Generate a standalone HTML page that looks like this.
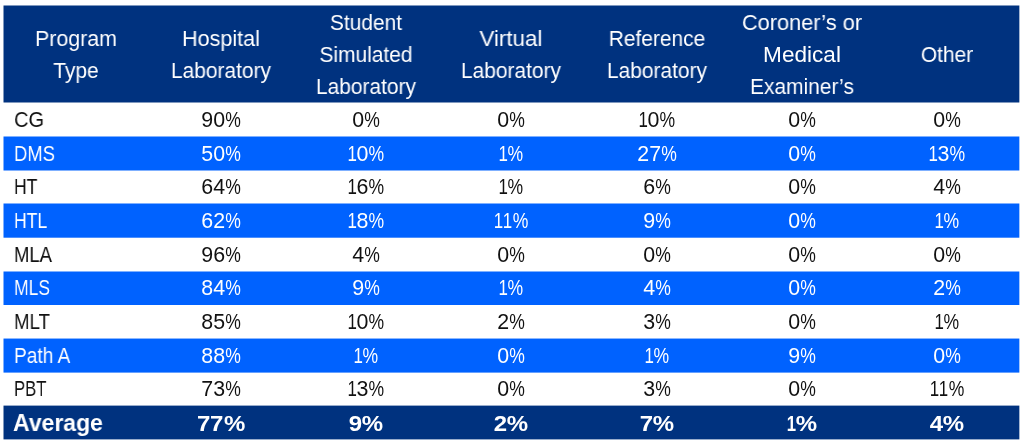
<!DOCTYPE html>
<html><head><meta charset="utf-8">
<style>
html,body{margin:0;padding:0;background:#fff;}
body{width:1024px;height:443px;position:relative;overflow:hidden;font-family:"Liberation Sans",sans-serif;}
svg{position:absolute;left:0;top:0;}
.t{position:absolute;white-space:nowrap;will-change:transform;line-height:40px;color:#111111;}
.h{font-size:22.5px;color:#fff;transform:translateX(-50%) scaleX(0.93);}
.d{font-size:22.5px;}
.c.d{transform:translateX(-50%) scaleX(0.84);}
.l.d{transform-origin:0 0;transform:scaleX(0.81);}
.bd{font-size:22.3px;font-weight:bold;}
.c.bd{transform:translateX(-50%) scaleX(1.075);}
.l.bd{transform-origin:0 0;transform:scaleX(1.0);}
.w{color:#fff;}
i{font-style:normal;display:inline-block;transform-origin:0 0;}

</style></head><body>
<svg width="1024" height="443" viewBox="0 0 1024 443" shape-rendering="geometricPrecision">
<rect x="3.5" y="5.5" width="1015.85" height="97.00" fill="#00327f"/>
<rect x="3.5" y="136.5" width="1015.85" height="34.00" fill="#0062ff"/>
<rect x="3.5" y="203.5" width="1015.85" height="34.20" fill="#0062ff"/>
<rect x="3.5" y="271.5" width="1015.85" height="33.50" fill="#0062ff"/>
<rect x="3.5" y="338.55" width="1015.85" height="34.05" fill="#0062ff"/>
<rect x="3.5" y="405.6" width="1015.85" height="33.80" fill="#00327f"/>
</svg>
<div class="t c h" style="left:76.06px;top:19.20px;transform:translateX(-50%) scaleX(0.949)">Program</div>
<div class="t c h" style="left:76.06px;top:50.80px">Type</div>
<div class="t c h" style="left:221.18px;top:19.20px;transform:translateX(-50%) scaleX(0.958)">Hospital</div>
<div class="t c h" style="left:221.18px;top:50.80px">Laboratory</div>
<div class="t c h" style="left:366.30px;top:2.70px">Student</div>
<div class="t c h" style="left:366.30px;top:35.10px">Simulated</div>
<div class="t c h" style="left:366.30px;top:67.30px">Laboratory</div>
<div class="t c h" style="left:511.42px;top:19.20px;transform:translateX(-50%) scaleX(0.995)">Virtual</div>
<div class="t c h" style="left:511.42px;top:50.80px">Laboratory</div>
<div class="t c h" style="left:656.55px;top:19.20px">Reference</div>
<div class="t c h" style="left:656.55px;top:50.80px">Laboratory</div>
<div class="t c h" style="left:801.67px;top:2.70px;transform:translateX(-50%) scaleX(0.967)">Coroner’s or</div>
<div class="t c h" style="left:801.67px;top:35.10px;transform:translateX(-50%) scaleX(1.004)">Medical</div>
<div class="t c h" style="left:801.67px;top:67.30px">Examiner’s</div>
<div class="t c h" style="left:946.79px;top:35.10px">Other</div>
<div class="t l d" style="left:13.6px;top:99.50px;transform:scaleX(0.89)">CG</div>
<div class="t c d" style="left:221.18px;top:99.50px;transform:translateX(-50%)"><i style="transform:scaleX(0.95);margin-right:-0.63px">9</i><i style="transform:scaleX(0.95);margin-right:-0.63px">0</i><i style="transform:scaleX(0.78);margin-right:-4.40px">%</i></div>
<div class="t c d" style="left:366.30px;top:99.50px;transform:translateX(-50%)"><i style="transform:scaleX(0.95);margin-right:-0.63px">0</i><i style="transform:scaleX(0.78);margin-right:-4.40px">%</i></div>
<div class="t c d" style="left:511.42px;top:99.50px;transform:translateX(-50%)"><i style="transform:scaleX(0.95);margin-right:-0.63px">0</i><i style="transform:scaleX(0.78);margin-right:-4.40px">%</i></div>
<div class="t c d" style="left:656.55px;top:99.50px;transform:translateX(-50%)"><i style="transform:scaleX(0.75);margin-right:-3.13px">1</i><i style="transform:scaleX(0.95);margin-right:-0.63px">0</i><i style="transform:scaleX(0.78);margin-right:-4.40px">%</i></div>
<div class="t c d" style="left:801.67px;top:99.50px;transform:translateX(-50%)"><i style="transform:scaleX(0.95);margin-right:-0.63px">0</i><i style="transform:scaleX(0.78);margin-right:-4.40px">%</i></div>
<div class="t c d" style="left:946.79px;top:99.50px;transform:translateX(-50%)"><i style="transform:scaleX(0.95);margin-right:-0.63px">0</i><i style="transform:scaleX(0.78);margin-right:-4.40px">%</i></div>
<div class="t l d w" style="left:13.6px;top:133.50px;transform:scaleX(0.82)">DMS</div>
<div class="t c d w" style="left:221.18px;top:133.50px;transform:translateX(-50%)"><i style="transform:scaleX(0.95);margin-right:-0.63px">5</i><i style="transform:scaleX(0.95);margin-right:-0.63px">0</i><i style="transform:scaleX(0.78);margin-right:-4.40px">%</i></div>
<div class="t c d w" style="left:366.30px;top:133.50px;transform:translateX(-50%)"><i style="transform:scaleX(0.75);margin-right:-3.13px">1</i><i style="transform:scaleX(0.95);margin-right:-0.63px">0</i><i style="transform:scaleX(0.78);margin-right:-4.40px">%</i></div>
<div class="t c d w" style="left:511.42px;top:133.50px;transform:translateX(-50%)"><i style="transform:scaleX(0.75);margin-right:-3.13px">1</i><i style="transform:scaleX(0.78);margin-right:-4.40px">%</i></div>
<div class="t c d w" style="left:656.55px;top:133.50px;transform:translateX(-50%)"><i style="transform:scaleX(0.95);margin-right:-0.63px">2</i><i style="transform:scaleX(0.95);margin-right:-0.63px">7</i><i style="transform:scaleX(0.78);margin-right:-4.40px">%</i></div>
<div class="t c d w" style="left:801.67px;top:133.50px;transform:translateX(-50%)"><i style="transform:scaleX(0.95);margin-right:-0.63px">0</i><i style="transform:scaleX(0.78);margin-right:-4.40px">%</i></div>
<div class="t c d w" style="left:946.79px;top:133.50px;transform:translateX(-50%)"><i style="transform:scaleX(0.75);margin-right:-3.13px">1</i><i style="transform:scaleX(0.95);margin-right:-0.63px">3</i><i style="transform:scaleX(0.78);margin-right:-4.40px">%</i></div>
<div class="t l d" style="left:13.6px;top:167.00px;transform:scaleX(0.78)">HT</div>
<div class="t c d" style="left:221.18px;top:167.00px;transform:translateX(-50%)"><i style="transform:scaleX(0.95);margin-right:-0.63px">6</i><i style="transform:scaleX(0.95);margin-right:-0.63px">4</i><i style="transform:scaleX(0.78);margin-right:-4.40px">%</i></div>
<div class="t c d" style="left:366.30px;top:167.00px;transform:translateX(-50%)"><i style="transform:scaleX(0.75);margin-right:-3.13px">1</i><i style="transform:scaleX(0.95);margin-right:-0.63px">6</i><i style="transform:scaleX(0.78);margin-right:-4.40px">%</i></div>
<div class="t c d" style="left:511.42px;top:167.00px;transform:translateX(-50%)"><i style="transform:scaleX(0.75);margin-right:-3.13px">1</i><i style="transform:scaleX(0.78);margin-right:-4.40px">%</i></div>
<div class="t c d" style="left:656.55px;top:167.00px;transform:translateX(-50%)"><i style="transform:scaleX(0.95);margin-right:-0.63px">6</i><i style="transform:scaleX(0.78);margin-right:-4.40px">%</i></div>
<div class="t c d" style="left:801.67px;top:167.00px;transform:translateX(-50%)"><i style="transform:scaleX(0.95);margin-right:-0.63px">0</i><i style="transform:scaleX(0.78);margin-right:-4.40px">%</i></div>
<div class="t c d" style="left:946.79px;top:167.00px;transform:translateX(-50%)"><i style="transform:scaleX(0.95);margin-right:-0.63px">4</i><i style="transform:scaleX(0.78);margin-right:-4.40px">%</i></div>
<div class="t l d w" style="left:13.6px;top:200.60px;transform:scaleX(0.78)">HTL</div>
<div class="t c d w" style="left:221.18px;top:200.60px;transform:translateX(-50%)"><i style="transform:scaleX(0.95);margin-right:-0.63px">6</i><i style="transform:scaleX(0.95);margin-right:-0.63px">2</i><i style="transform:scaleX(0.78);margin-right:-4.40px">%</i></div>
<div class="t c d w" style="left:366.30px;top:200.60px;transform:translateX(-50%)"><i style="transform:scaleX(0.75);margin-right:-3.13px">1</i><i style="transform:scaleX(0.95);margin-right:-0.63px">8</i><i style="transform:scaleX(0.78);margin-right:-4.40px">%</i></div>
<div class="t c d w" style="left:511.42px;top:200.60px;transform:translateX(-50%)"><i style="transform:scaleX(0.75);margin-right:-3.13px">1</i><i style="transform:scaleX(0.75);margin-right:-3.13px">1</i><i style="transform:scaleX(0.78);margin-right:-4.40px">%</i></div>
<div class="t c d w" style="left:656.55px;top:200.60px;transform:translateX(-50%)"><i style="transform:scaleX(0.95);margin-right:-0.63px">9</i><i style="transform:scaleX(0.78);margin-right:-4.40px">%</i></div>
<div class="t c d w" style="left:801.67px;top:200.60px;transform:translateX(-50%)"><i style="transform:scaleX(0.95);margin-right:-0.63px">0</i><i style="transform:scaleX(0.78);margin-right:-4.40px">%</i></div>
<div class="t c d w" style="left:946.79px;top:200.60px;transform:translateX(-50%)"><i style="transform:scaleX(0.75);margin-right:-3.13px">1</i><i style="transform:scaleX(0.78);margin-right:-4.40px">%</i></div>
<div class="t l d" style="left:13.6px;top:234.60px;transform:scaleX(0.82)">MLA</div>
<div class="t c d" style="left:221.18px;top:234.60px;transform:translateX(-50%)"><i style="transform:scaleX(0.95);margin-right:-0.63px">9</i><i style="transform:scaleX(0.95);margin-right:-0.63px">6</i><i style="transform:scaleX(0.78);margin-right:-4.40px">%</i></div>
<div class="t c d" style="left:366.30px;top:234.60px;transform:translateX(-50%)"><i style="transform:scaleX(0.95);margin-right:-0.63px">4</i><i style="transform:scaleX(0.78);margin-right:-4.40px">%</i></div>
<div class="t c d" style="left:511.42px;top:234.60px;transform:translateX(-50%)"><i style="transform:scaleX(0.95);margin-right:-0.63px">0</i><i style="transform:scaleX(0.78);margin-right:-4.40px">%</i></div>
<div class="t c d" style="left:656.55px;top:234.60px;transform:translateX(-50%)"><i style="transform:scaleX(0.95);margin-right:-0.63px">0</i><i style="transform:scaleX(0.78);margin-right:-4.40px">%</i></div>
<div class="t c d" style="left:801.67px;top:234.60px;transform:translateX(-50%)"><i style="transform:scaleX(0.95);margin-right:-0.63px">0</i><i style="transform:scaleX(0.78);margin-right:-4.40px">%</i></div>
<div class="t c d" style="left:946.79px;top:234.60px;transform:translateX(-50%)"><i style="transform:scaleX(0.95);margin-right:-0.63px">0</i><i style="transform:scaleX(0.78);margin-right:-4.40px">%</i></div>
<div class="t l d w" style="left:13.6px;top:268.25px;transform:scaleX(0.78)">MLS</div>
<div class="t c d w" style="left:221.18px;top:268.25px;transform:translateX(-50%)"><i style="transform:scaleX(0.95);margin-right:-0.63px">8</i><i style="transform:scaleX(0.95);margin-right:-0.63px">4</i><i style="transform:scaleX(0.78);margin-right:-4.40px">%</i></div>
<div class="t c d w" style="left:366.30px;top:268.25px;transform:translateX(-50%)"><i style="transform:scaleX(0.95);margin-right:-0.63px">9</i><i style="transform:scaleX(0.78);margin-right:-4.40px">%</i></div>
<div class="t c d w" style="left:511.42px;top:268.25px;transform:translateX(-50%)"><i style="transform:scaleX(0.75);margin-right:-3.13px">1</i><i style="transform:scaleX(0.78);margin-right:-4.40px">%</i></div>
<div class="t c d w" style="left:656.55px;top:268.25px;transform:translateX(-50%)"><i style="transform:scaleX(0.95);margin-right:-0.63px">4</i><i style="transform:scaleX(0.78);margin-right:-4.40px">%</i></div>
<div class="t c d w" style="left:801.67px;top:268.25px;transform:translateX(-50%)"><i style="transform:scaleX(0.95);margin-right:-0.63px">0</i><i style="transform:scaleX(0.78);margin-right:-4.40px">%</i></div>
<div class="t c d w" style="left:946.79px;top:268.25px;transform:translateX(-50%)"><i style="transform:scaleX(0.95);margin-right:-0.63px">2</i><i style="transform:scaleX(0.78);margin-right:-4.40px">%</i></div>
<div class="t l d" style="left:13.6px;top:301.78px;transform:scaleX(0.83)">MLT</div>
<div class="t c d" style="left:221.18px;top:301.78px;transform:translateX(-50%)"><i style="transform:scaleX(0.95);margin-right:-0.63px">8</i><i style="transform:scaleX(0.95);margin-right:-0.63px">5</i><i style="transform:scaleX(0.78);margin-right:-4.40px">%</i></div>
<div class="t c d" style="left:366.30px;top:301.78px;transform:translateX(-50%)"><i style="transform:scaleX(0.75);margin-right:-3.13px">1</i><i style="transform:scaleX(0.95);margin-right:-0.63px">0</i><i style="transform:scaleX(0.78);margin-right:-4.40px">%</i></div>
<div class="t c d" style="left:511.42px;top:301.78px;transform:translateX(-50%)"><i style="transform:scaleX(0.95);margin-right:-0.63px">2</i><i style="transform:scaleX(0.78);margin-right:-4.40px">%</i></div>
<div class="t c d" style="left:656.55px;top:301.78px;transform:translateX(-50%)"><i style="transform:scaleX(0.95);margin-right:-0.63px">3</i><i style="transform:scaleX(0.78);margin-right:-4.40px">%</i></div>
<div class="t c d" style="left:801.67px;top:301.78px;transform:translateX(-50%)"><i style="transform:scaleX(0.95);margin-right:-0.63px">0</i><i style="transform:scaleX(0.78);margin-right:-4.40px">%</i></div>
<div class="t c d" style="left:946.79px;top:301.78px;transform:translateX(-50%)"><i style="transform:scaleX(0.75);margin-right:-3.13px">1</i><i style="transform:scaleX(0.78);margin-right:-4.40px">%</i></div>
<div class="t l d w" style="left:13.6px;top:335.58px;transform:scaleX(0.85)">Path A</div>
<div class="t c d w" style="left:221.18px;top:335.58px;transform:translateX(-50%)"><i style="transform:scaleX(0.95);margin-right:-0.63px">8</i><i style="transform:scaleX(0.95);margin-right:-0.63px">8</i><i style="transform:scaleX(0.78);margin-right:-4.40px">%</i></div>
<div class="t c d w" style="left:366.30px;top:335.58px;transform:translateX(-50%)"><i style="transform:scaleX(0.75);margin-right:-3.13px">1</i><i style="transform:scaleX(0.78);margin-right:-4.40px">%</i></div>
<div class="t c d w" style="left:511.42px;top:335.58px;transform:translateX(-50%)"><i style="transform:scaleX(0.95);margin-right:-0.63px">0</i><i style="transform:scaleX(0.78);margin-right:-4.40px">%</i></div>
<div class="t c d w" style="left:656.55px;top:335.58px;transform:translateX(-50%)"><i style="transform:scaleX(0.75);margin-right:-3.13px">1</i><i style="transform:scaleX(0.78);margin-right:-4.40px">%</i></div>
<div class="t c d w" style="left:801.67px;top:335.58px;transform:translateX(-50%)"><i style="transform:scaleX(0.95);margin-right:-0.63px">9</i><i style="transform:scaleX(0.78);margin-right:-4.40px">%</i></div>
<div class="t c d w" style="left:946.79px;top:335.58px;transform:translateX(-50%)"><i style="transform:scaleX(0.95);margin-right:-0.63px">0</i><i style="transform:scaleX(0.78);margin-right:-4.40px">%</i></div>
<div class="t l d" style="left:13.6px;top:369.10px;transform:scaleX(0.74)">PBT</div>
<div class="t c d" style="left:221.18px;top:369.10px;transform:translateX(-50%)"><i style="transform:scaleX(0.95);margin-right:-0.63px">7</i><i style="transform:scaleX(0.95);margin-right:-0.63px">3</i><i style="transform:scaleX(0.78);margin-right:-4.40px">%</i></div>
<div class="t c d" style="left:366.30px;top:369.10px;transform:translateX(-50%)"><i style="transform:scaleX(0.75);margin-right:-3.13px">1</i><i style="transform:scaleX(0.95);margin-right:-0.63px">3</i><i style="transform:scaleX(0.78);margin-right:-4.40px">%</i></div>
<div class="t c d" style="left:511.42px;top:369.10px;transform:translateX(-50%)"><i style="transform:scaleX(0.95);margin-right:-0.63px">0</i><i style="transform:scaleX(0.78);margin-right:-4.40px">%</i></div>
<div class="t c d" style="left:656.55px;top:369.10px;transform:translateX(-50%)"><i style="transform:scaleX(0.95);margin-right:-0.63px">3</i><i style="transform:scaleX(0.78);margin-right:-4.40px">%</i></div>
<div class="t c d" style="left:801.67px;top:369.10px;transform:translateX(-50%)"><i style="transform:scaleX(0.95);margin-right:-0.63px">0</i><i style="transform:scaleX(0.78);margin-right:-4.40px">%</i></div>
<div class="t c d" style="left:946.79px;top:369.10px;transform:translateX(-50%)"><i style="transform:scaleX(0.75);margin-right:-3.13px">1</i><i style="transform:scaleX(0.75);margin-right:-3.13px">1</i><i style="transform:scaleX(0.78);margin-right:-4.40px">%</i></div>
<div class="t l bd w" style="left:12.8px;top:402.92px;font-size:23.6px;transform:scaleX(0.975)">Average</div>
<div class="t c bd w" style="left:221.18px;top:403.87px;transform:translateX(-50%)"><i style="transform:scaleX(1.075);margin-right:0.93px">7</i><i style="transform:scaleX(1.075);margin-right:0.93px">7</i><i style="transform:scaleX(1.075);margin-right:1.49px">%</i></div>
<div class="t c bd w" style="left:366.30px;top:403.87px;transform:translateX(-50%)"><i style="transform:scaleX(1.075);margin-right:0.93px">9</i><i style="transform:scaleX(1.075);margin-right:1.49px">%</i></div>
<div class="t c bd w" style="left:511.42px;top:403.87px;transform:translateX(-50%)"><i style="transform:scaleX(1.075);margin-right:0.93px">2</i><i style="transform:scaleX(1.075);margin-right:1.49px">%</i></div>
<div class="t c bd w" style="left:656.55px;top:403.87px;transform:translateX(-50%)"><i style="transform:scaleX(1.075);margin-right:0.93px">7</i><i style="transform:scaleX(1.075);margin-right:1.49px">%</i></div>
<div class="t c bd w" style="left:801.67px;top:403.87px;transform:translateX(-50%)"><i style="transform:scaleX(0.75);margin-right:-3.10px">1</i><i style="transform:scaleX(1.075);margin-right:1.49px">%</i></div>
<div class="t c bd w" style="left:946.79px;top:403.87px;transform:translateX(-50%)"><i style="transform:scaleX(1.075);margin-right:0.93px">4</i><i style="transform:scaleX(1.075);margin-right:1.49px">%</i></div>
</body></html>
